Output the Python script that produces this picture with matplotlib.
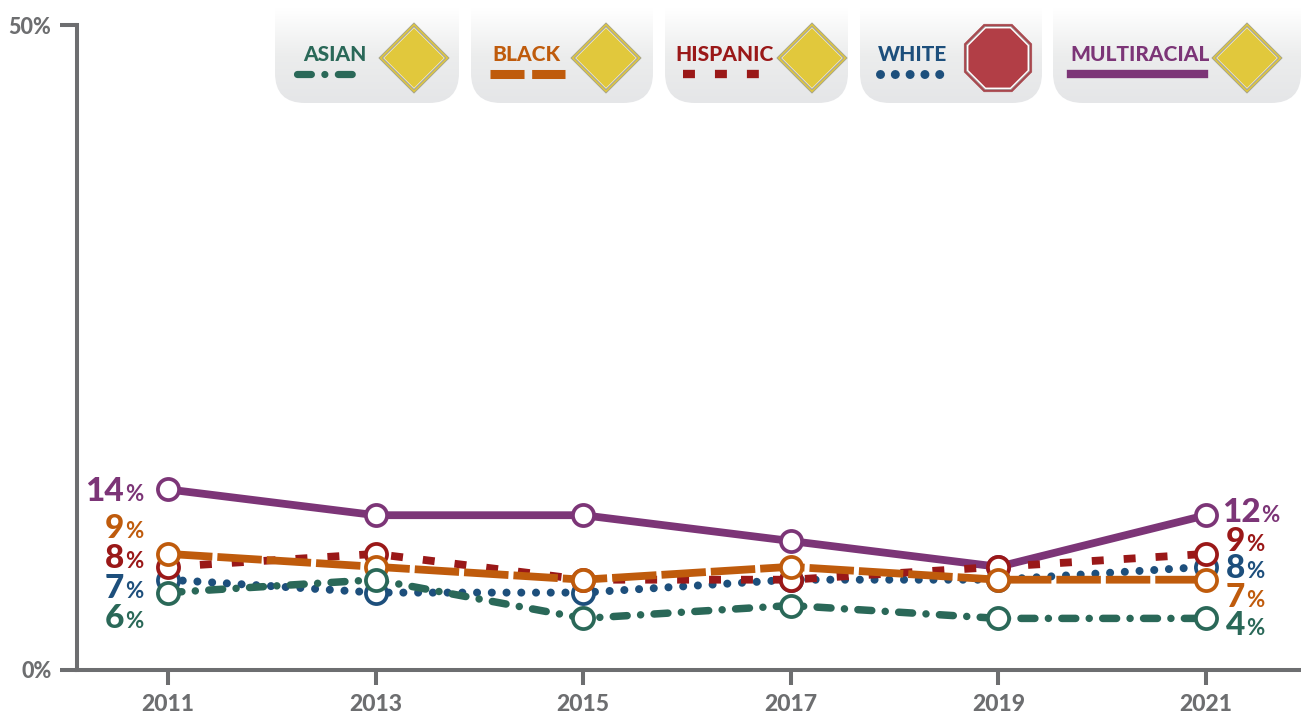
import numpy as np
import matplotlib
matplotlib.use('Agg')
import matplotlib.pyplot as plt
from matplotlib.colors import LinearSegmentedColormap
from matplotlib.patches import FancyBboxPatch, Polygon

plt.rcParams['font.family'] = ['Lato', 'DejaVu Sans']
plt.rcParams['lines.scale_dashes'] = False

# data
years = [2011, 2013, 2015, 2017, 2019, 2021]
multiracial = [14, 12, 12, 10, 8, 12]
white = [7, 6, 6, 7, 7, 8]
hispanic = [8, 9, 7, 7, 8, 9]
black = [9, 8, 7, 8, 7, 7]
asian = [6, 7, 4, 5, 4, 4]

GREEN = '#2a6858'
ORANGE = '#bf5b0c'
RED = '#9a1818'
BLUE = '#1d4f7c'
PURPLE = '#7c3577'
GRAY = '#6d6e70'

W, H = 1301, 715
fig = plt.figure(figsize=(W / 100, H / 100), dpi=100)

# plot area, pixels
ax = fig.add_axes([77 / W, (H - 670) / H, (W - 77) / W, 645 / H])
ax.set_xlim(2011 - 91 / 103.8, 2021 + 95 / 103.8)
ax.set_ylim(0, 50)

# drawn back to front, later ones cover the earlier circles
series = [
    (multiracial, PURPLE, '-', 'butt', 5.6),
    (white, BLUE, (0, (0.01, 10.6)), 'round', 5.8),
    (hispanic, RED, (0, (8.6, 14.4)), 'butt', 5.6),
    (black, ORANGE, (0, (32, 3.6)), 'butt', 5.6),
    (asian, GREEN, (0, (10, 9.7, 0.01, 9.7)), 'round', 5.4),
]
for i, (vals, col, ls, cap, lw) in enumerate(series):
    ax.plot(years, vals, color=col, lw=lw, ls=ls, dash_capstyle=cap,
            marker='o', ms=15.2, mfc='white', mec=col, mew=2.7,
            zorder=3 + i, clip_on=False)

for s in ['top', 'right']:
    ax.spines[s].set_visible(False)
for s in ['left', 'bottom']:
    ax.spines[s].set_color(GRAY)
    ax.spines[s].set_linewidth(2.9)
ax.set_xticks(years)
ax.set_yticks([0, 50])
ax.set_yticklabels(['0%', '50%'])
ax.tick_params(axis='x', length=11, width=2.9, color=GRAY, pad=6,
               labelsize=16.5, labelcolor=GRAY)
ax.tick_params(axis='y', length=12.5, width=2.9, color=GRAY, pad=6,
               labelsize=15.5, labelcolor=GRAY)
for t in ax.get_xticklabels() + ax.get_yticklabels():
    t.set_fontweight(900)

# overlay in pixel coordinates for the legend panels and value labels
ov = fig.add_axes([0, 0, 1, 1], zorder=10)
ov.patch.set_visible(False)
ov.axis('off')
ov.set_xlim(0, W)
ov.set_ylim(H, 0)

grad = LinearSegmentedColormap.from_list('panel', ['#ffffff', '#eceded', '#e5e6e8'])
panels = [
    (275, 459, 'ASIAN', GREEN, 335, 'sign', 414, (296.5, 364.6), (0, (10, 9.7, 0.01, 9.7)), 'round', 5.2),
    (471, 653, 'BLACK', ORANGE, 526, 'sign', 606, (490, 565), (0, (24.5, 5.5)), 'butt', 6.5),
    (665, 848, 'HISPANIC', RED, 725, 'sign', 812, (683, 760), (0, (8.6, 14.4)), 'butt', 6),
    (860, 1042, 'WHITE', BLUE, 913, 'stop', 998, (880, 941), (0, (0.01, 10.65)), 'round', 6.5),
    (1053, 1301, 'MULTIRACIAL', PURPLE, 1140, 'sign', 1247, (1071, 1204), '-', 'butt', 6),
]


def regular(cx, cy, r, n, start):
    a = np.radians(start) + 2 * np.pi * np.arange(n) / n
    return np.column_stack([cx + r * np.cos(a), cy + r * np.sin(a)])


for x0, x1, name, col, tx, kind, sx, (k0, k1), ls, cap, lw in panels:
    box = FancyBboxPatch((x0, -30), x1 - x0, 133, boxstyle='round,pad=0,rounding_size=30',
                         fc='none', ec='none')
    ov.add_patch(box)
    im = ov.imshow(np.linspace(0, 1, 100).reshape(-1, 1), cmap=grad, aspect='auto',
                   extent=(x0, x1, 103, 8), zorder=1)
    im.set_clip_path(box)
    ov.text(tx, 61, name, color=col, fontsize=15, fontweight=900,
            ha='center', va='baseline', zorder=3)
    ov.plot([k0, k1], [74, 74], color=col, lw=lw, ls=ls, dash_capstyle=cap, zorder=3)
    if kind == 'sign':
        layers = [(35, '#e1c83c', '#a8a588', 0.7), (31.5, '#ffffff', '#9a9a9a', 0.7),
                  (30, '#e1c83c', 'none', 0)]
        for r, fc, ec, elw in layers:
            ov.add_patch(Polygon(regular(sx, 58, r, 4, 0), fc=fc, ec=ec, lw=elw,
                                 joinstyle='round', zorder=4))
    else:
        layers = [(36.5, '#a8474d', '#a8474d', 0.5), (34, '#ffffff', '#999999', 0.5),
                  (32, '#b23e46', 'none', 0)]
        for r, fc, ec, elw in layers:
            ov.add_patch(Polygon(regular(sx, 58, r, 8, 22.5), fc=fc, ec=ec, lw=elw,
                                 joinstyle='miter', zorder=4))

# value labels at both ends, spread apart by hand (baseline in pixels)
left_labels = [('14', PURPLE, 501), ('9', ORANGE, 538), ('8', RED, 568), ('7', BLUE, 598), ('6', GREEN, 628)]
right_labels = [('12', PURPLE, 522), ('9', RED, 551), ('8', BLUE, 578), ('7', ORANGE, 607), ('4', GREEN, 635)]
renderer = fig.canvas.get_renderer()


def value_label(x, y, num, col, ha):
    t = ov.text(x, y, num, color=col, fontsize=24, fontweight=900, ha=ha, va='baseline', zorder=5)
    x_end = t.get_window_extent(renderer).x1
    ov.text(x_end + 1, y, '%', color=col, fontsize=16, fontweight=700, ha='left', va='baseline', zorder=5)


for num, col, y in left_labels:
    value_label(124, y, num, col, 'right')
for num, col, y in right_labels:
    value_label(1226 if len(num) == 1 else 1222, y, num, col, 'left')

ov.set_xlim(0, W)
ov.set_ylim(H, 0)

fig.savefig('out.png', dpi=100)
